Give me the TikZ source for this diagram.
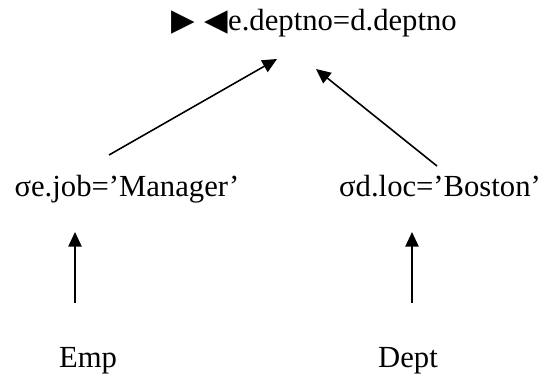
\documentclass[tikz,border=0pt]{standalone}
\usepackage{fontspec}
\setmainfont{Liberation Serif}
\newfontfamily\symfont{DejaVu Sans}
\usetikzlibrary{arrows.meta,calc}

\begin{document}
\begin{tikzpicture}[x=0.75pt, y=0.75pt,
  rel/.style={inner sep=0pt, anchor=base, font=\fontsize{23}{27}\selectfont},
  arr/.style={-{Triangle[length=11pt, width=10pt]}, line width=1.2pt}]

\useasboundingbox (0,0) rectangle (545,376);


% Join of both selections
\path
(314,346) node[rel] (join) {{\symfont ▶ ◀}e.deptno=d.deptno};


% Selections
\path
(127,180) node[rel] (selemp) {σe.job=’Manager’};

\path
(440,180) node[rel] (seldept) {σd.loc=’Boston’};


% Base relations
\path
(88,9) node[rel] (emp) {Emp};

\path
(408,9) node[rel] (dept) {Dept};



% Arrows up the tree
\draw[arr] ($(emp.base)+(-13,64)$) -- ($(selemp.base)+(-52,-36)$);
\draw[arr] ($(dept.base)+(4,64)$) -- ($(seldept.base)+(-28,-36)$);

\draw[arr] ($(selemp.base)+(-18,41)$) -- ($(join.base)+(-37,-29)$);
\draw[arr] ($(seldept.base)+(-3,30)$) -- ($(join.base)+(2,-39)$);


\end{tikzpicture}
\end{document}
